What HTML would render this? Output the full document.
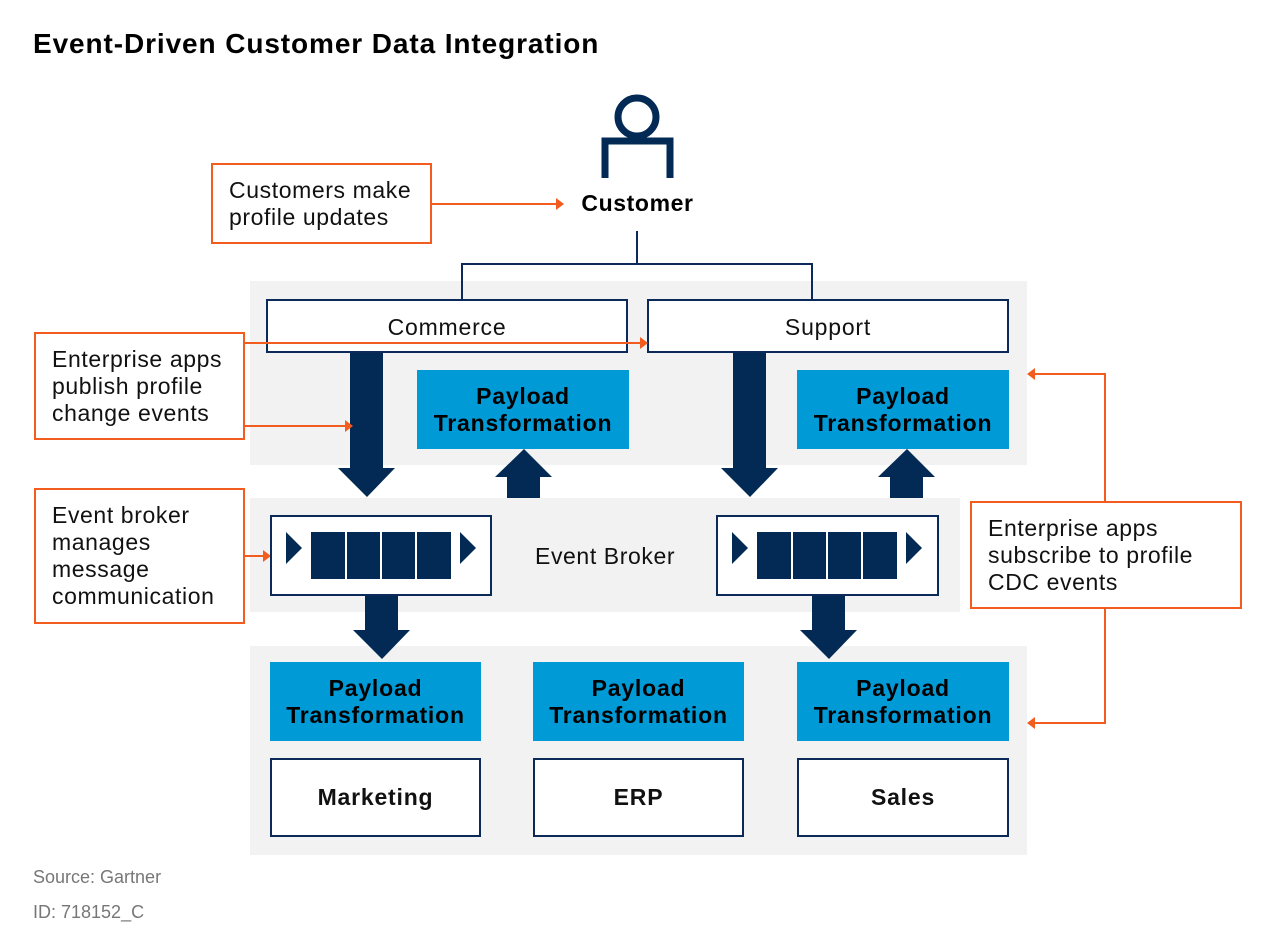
<!DOCTYPE html>
<html><head><style>
body{margin:0;background:#fff;width:1275px;height:937px;position:relative;overflow:hidden;font-family:"Liberation Sans",sans-serif}
.a{position:absolute;box-sizing:border-box}
.g{background:#f2f2f2}
.w{background:#fff;border:2px solid #0b2a5a;display:flex;align-items:center;justify-content:center;font-size:23px;letter-spacing:0.8px;color:#111}
.p{background:#009ad7;color:#000;font-weight:bold;font-size:23px;letter-spacing:0.8px;display:flex;align-items:center;justify-content:center;text-align:center;line-height:27px}
.c{border:2px solid #f25c1e;background:#fff;font-size:23px;letter-spacing:0.6px;color:#111;line-height:27px;padding-left:16px;display:flex;align-items:center;white-space:nowrap}
.b{font-weight:bold}
</style></head><body>
<div class="a" style="left:33px;top:28px;font-size:28px;letter-spacing:0.9px;font-weight:bold;color:#000">Event-Driven Customer Data Integration</div>
<div class="a g" style="left:250px;top:281px;width:777px;height:184px"></div>
<div class="a g" style="left:250px;top:498px;width:710px;height:114px"></div>
<div class="a g" style="left:250px;top:646px;width:777px;height:209px"></div>

<svg class="a" style="left:0;top:0" width="1275" height="937">
<g fill="none" stroke="#022a55" stroke-width="7"><circle cx="637" cy="117" r="19"/><path d="M605 178V141H670V178"/></g>
<path d="M637 231V264M462 299V264H812V299" stroke="#0b2a5a" stroke-width="2" fill="none"/>
<g fill="#022a55">
<path d="M350 353h33v115h12l-28 29l-29-29h12z"/>
<path d="M733 353h33v115h12l-28 29l-29-29h12z"/>
<path d="M507 498h33v-21h12l-28-28l-29 28h12z"/>
<path d="M890 498h33v-21h12l-28-28l-29 28h12z"/>
<path d="M365 596h33v34h12l-28 29l-29-29h12z"/>
<path d="M812 596h33v34h12l-28 29l-29-29h12z"/>
</g>
<g stroke="#f25c1e" stroke-width="2" fill="none">
<path d="M432 204H557"/><path d="M245 426H346"/><path d="M245 556H264"/>
<path d="M1105 501V374H1034"/><path d="M1105 609V723H1034"/>
</g>
<g fill="#f25c1e">
<path d="M556 198l8 6l-8 6z"/><path d="M345 420l8 6l-8 6z"/><path d="M263 550l8 6l-8 6z"/>
<path d="M1035 368l-8 6l8 6z"/><path d="M1035 717l-8 6l8 6z"/>
</g>
</svg>

<div class="a" style="left:555px;top:190px;width:165px;text-align:center;font-size:23px;letter-spacing:0.6px;font-weight:bold">Customer</div>
<div class="a w" style="left:266px;top:299px;width:362px;height:54px;padding-top:2px">Commerce</div>
<div class="a w" style="left:647px;top:299px;width:362px;height:54px;padding-top:2px">Support</div>
<svg class="a" style="left:0;top:0" width="1275" height="937">
<path d="M245 343H641" stroke="#f25c1e" stroke-width="2"/><path d="M640 337l8 6l-8 6z" fill="#f25c1e"/>
</svg>
<div class="a p" style="left:417px;top:370px;width:212px;height:79px">Payload<br>Transformation</div>
<div class="a p" style="left:797px;top:370px;width:212px;height:79px">Payload<br>Transformation</div>

<div class="a w" style="left:270px;top:515px;width:222px;height:81px"></div>
<div class="a w" style="left:716px;top:515px;width:223px;height:81px"></div>
<svg class="a" style="left:0;top:0" width="1275" height="937"><g fill="#022a55">
<path d="M286 532l16 16l-16 16z"/><path d="M460 532l16 16l-16 16z"/>
<rect x="311" y="532" width="34" height="47"/><rect x="347" y="532" width="33" height="47"/><rect x="382" y="532" width="33" height="47"/><rect x="417" y="532" width="34" height="47"/>
<path d="M732 532l16 16l-16 16z"/><path d="M906 532l16 16l-16 16z"/>
<rect x="757" y="532" width="34" height="47"/><rect x="793" y="532" width="33" height="47"/><rect x="828" y="532" width="33" height="47"/><rect x="863" y="532" width="34" height="47"/>
</g></svg>
<div class="a" style="left:535px;top:543px;font-size:23px;letter-spacing:0.6px;color:#111">Event Broker</div>

<div class="a p" style="left:270px;top:662px;width:211px;height:79px">Payload<br>Transformation</div>
<div class="a p" style="left:533px;top:662px;width:211px;height:79px">Payload<br>Transformation</div>
<div class="a p" style="left:797px;top:662px;width:212px;height:79px">Payload<br>Transformation</div>
<div class="a w b" style="left:270px;top:758px;width:211px;height:79px">Marketing</div>
<div class="a w b" style="left:533px;top:758px;width:211px;height:79px">ERP</div>
<div class="a w b" style="left:797px;top:758px;width:212px;height:79px">Sales</div>

<div class="a c" style="left:211px;top:163px;width:221px;height:81px">Customers make<br>profile updates</div>
<div class="a c" style="left:34px;top:332px;width:211px;height:108px">Enterprise apps<br>publish profile<br>change events</div>
<div class="a c" style="left:34px;top:488px;width:211px;height:136px">Event broker<br>manages<br>message<br>communication</div>
<div class="a c" style="left:970px;top:501px;width:272px;height:108px">Enterprise apps<br>subscribe to profile<br>CDC events</div>

<div class="a" style="left:33px;top:867px;font-size:18px;color:#777">Source: Gartner</div>
<div class="a" style="left:33px;top:902px;font-size:18px;color:#777">ID: 718152_C</div>
</body></html>
